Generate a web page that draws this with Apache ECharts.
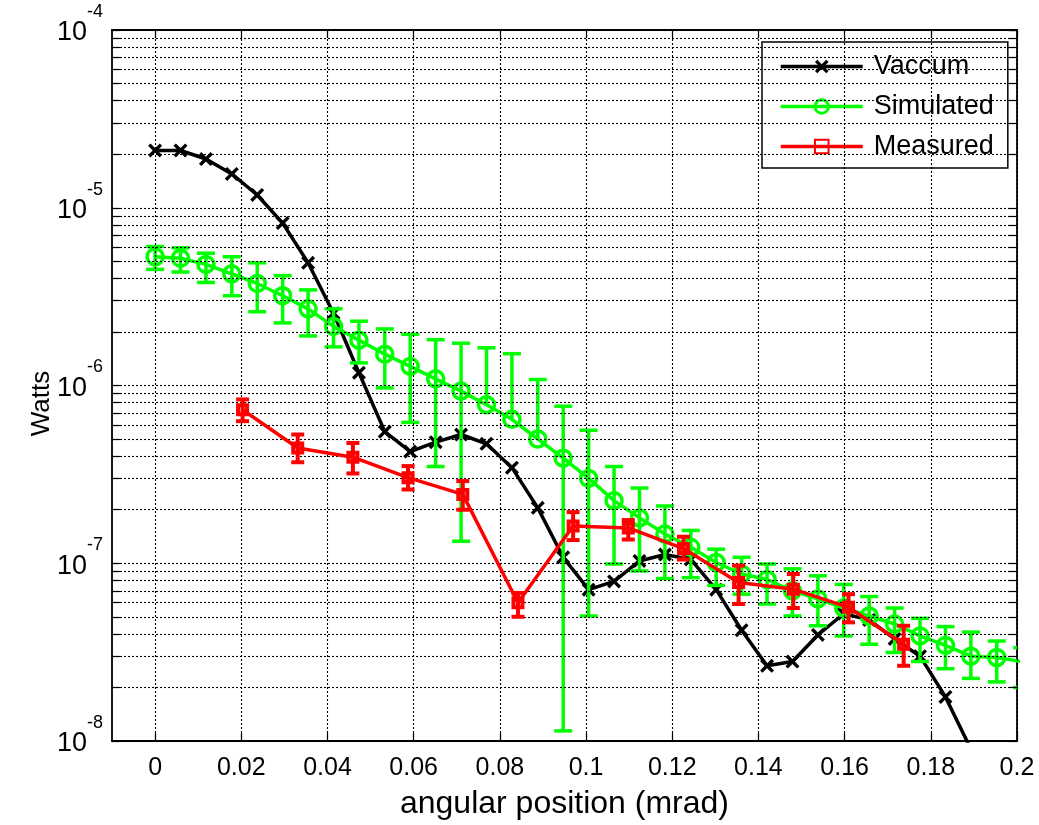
<!DOCTYPE html>
<html><head><meta charset="utf-8">
<script src="https://cdn.jsdelivr.net/npm/echarts@6/dist/echarts.min.js"></script>
<style>html,body{margin:0;padding:0;background:#fff}#c{width:1039px;height:825px}</style>
</head><body><div id="c"></div>
<script>
// ---------- data ----------
const xTicks = [0, 0.02, 0.04, 0.06, 0.08, 0.1, 0.12, 0.14, 0.16, 0.18, 0.2];
const xTickLabels = ['0', '0.02', '0.04', '0.06', '0.08', '0.1', '0.12', '0.14', '0.16', '0.18', '0.2'];
const yDecades = [1e-8, 1e-7, 1e-6, 1e-5, 1e-4];
const yMinorMantissas = [2, 3, 4, 5, 6, 7, 8, 9];

// angular positions of the Vaccum / Simulated samples (mrad)
const xSim = [0, 0.0059, 0.0118, 0.0178, 0.0237, 0.0296, 0.0355, 0.0414, 0.0473, 0.0533,
  0.0592, 0.0651, 0.071, 0.0769, 0.0828, 0.0888, 0.0947, 0.1006, 0.1065, 0.1124,
  0.1183, 0.1243, 0.1302, 0.1361, 0.142, 0.1479, 0.1538, 0.1598, 0.1657, 0.1716,
  0.1775, 0.1834, 0.1893, 0.1953, 0.2012];

const vaccum = [2.1e-5, 2.1e-5, 1.88e-5, 1.55e-5, 1.18e-5, 8.2e-6, 4.9e-6, 2.55e-6, 1.18e-6, 5.5e-7,
  4.25e-7, 4.8e-7, 5.3e-7, 4.7e-7, 3.45e-7, 2.05e-7, 1.08e-7, 7.1e-8, 7.9e-8, 1.03e-7,
  1.12e-7, 1.05e-7, 7.1e-8, 4.2e-8, 2.65e-8, 2.8e-8, 3.95e-8, 5.2e-8, 4.8e-8, 3.75e-8,
  3.0e-8, 1.77e-8, 9e-9];

const simulated = [5.3e-6, 5.2e-6, 4.8e-6, 4.25e-6, 3.75e-6, 3.2e-6, 2.7e-6, 2.15e-6, 1.8e-6, 1.5e-6,
  1.28e-6, 1.09e-6, 9.3e-7, 7.8e-7, 6.45e-7, 5.0e-7, 3.9e-7, 3.0e-7, 2.25e-7, 1.8e-7,
  1.46e-7, 1.23e-7, 1.01e-7, 8.7e-8, 8.1e-8, 7.0e-8, 6.3e-8, 5.6e-8, 5.05e-8, 4.55e-8,
  3.9e-8, 3.45e-8, 3.0e-8, 2.95e-8, 2.8e-8];
const simHigh = [6.05e-6, 5.95e-6, 5.55e-6, 5.3e-6, 4.9e-6, 4.15e-6, 3.45e-6, 2.7e-6, 2.3e-6, 2.08e-6,
  1.94e-6, 1.81e-6, 1.73e-6, 1.63e-6, 1.51e-6, 1.08e-6, 7.65e-7, 5.6e-7, 3.5e-7, 2.65e-7,
  2.1e-7, 1.53e-7, 1.2e-7, 1.08e-7, 9.9e-8, 9.3e-8, 8.5e-8, 7.6e-8, 6.5e-8, 5.6e-8,
  4.9e-8, 4.4e-8, 4.1e-8, 3.65e-8, 3.35e-8];
const simLow = [4.5e-6, 4.35e-6, 3.8e-6, 3.2e-6, 2.6e-6, 2.25e-6, 1.9e-6, 1.65e-6, 1.34e-6, 9.7e-7,
  6.2e-7, 3.5e-7, 1.33e-7, null, null, null, 1.14e-8, 5.05e-8, 9.9e-8, 9.05e-8,
  8.2e-8, 8.3e-8, 7.5e-8, 6.7e-8, 5.9e-8, 5.05e-8, 4.45e-8, 3.9e-8, 3.5e-8, 3.15e-8,
  2.8e-8, 2.55e-8, 2.25e-8, 2.15e-8, 2.0e-8];

const xMeas = [0.0203, 0.0331, 0.0459, 0.0587, 0.0714, 0.0842, 0.097, 0.1098, 0.1226, 0.1354,
  0.1481, 0.1609, 0.1737];
const measured = [7.3e-7, 4.45e-7, 3.95e-7, 3.03e-7, 2.44e-7, 6.0e-8, 1.62e-7, 1.58e-7, 1.21e-7, 7.8e-8,
  7.15e-8, 5.65e-8, 3.5e-8];
const measHigh = [8.35e-7, 5.3e-7, 4.75e-7, 3.52e-7, 2.9e-7, 6.8e-8, 1.94e-7, 1.75e-7, 1.41e-7, 9.7e-8,
  8.7e-8, 6.7e-8, 4.45e-8];
const measLow = [6.3e-7, 3.7e-7, 3.2e-7, 2.6e-7, 2.0e-7, 5.0e-8, 1.35e-7, 1.36e-7, 1.05e-7, 5.9e-8,
  5.6e-8, 4.65e-8, 2.65e-8];

// ---------- chart ----------
const FONT = '"Liberation Sans", Arial, Helvetica, sans-serif';
const X_MIN = -0.01, X_MAX = 0.2, Y_MIN = 1e-8, Y_MAX = 1e-4;
const GRID = { left: 112, right: 22, top: 30, bottom: 83 };
const plotW = 1039 - GRID.left - GRID.right;
const tickDx = 8 / plotW * (X_MAX - X_MIN);

const yMinor = [];
yDecades.slice(0, -1).forEach(d => yMinorMantissas.forEach(m => yMinor.push(m * d)));

const dotted = { color: '#000', width: 1.1, type: [2, 2] };
const gridLines = [];
xTicks.forEach(v => gridLines.push([{ coord: [v, Y_MIN], lineStyle: dotted }, { coord: [v, Y_MAX] }]));
yDecades.concat(yMinor).forEach(v => gridLines.push([{ coord: [X_MIN, v], lineStyle: dotted }, { coord: [X_MAX, v] }]));
const solidTick = { color: '#000', width: 1.2, type: 'solid' };
yMinor.forEach(v => {
  gridLines.push([{ coord: [X_MIN, v], lineStyle: solidTick }, { coord: [X_MIN + tickDx, v] }]);
  gridLines.push([{ coord: [X_MAX - tickDx, v], lineStyle: solidTick }, { coord: [X_MAX, v] }]);
});

function errData(xs, c, lo, hi) {
  return xs.map((x, i) => [x, c[i], lo[i] == null ? NaN : lo[i], hi[i]]);
}
function errRender(capHalf, color, width) {
  return function (params, api) {
    const x = api.value(0), c = api.value(1), lo = api.value(2), hi = api.value(3);
    const pc = api.coord([x, c]);
    const ph = api.coord([x, hi]);
    const pl = (isFinite(lo) && lo > 0) ? api.coord([x, lo]) : null;
    const st = { stroke: color, lineWidth: width, fill: null };
    const children = [
      { type: 'line', shape: { x1: ph[0], y1: ph[1], x2: ph[0], y2: pl ? pl[1] : pc[1] }, style: st },
      { type: 'line', shape: { x1: ph[0] - capHalf, y1: ph[1], x2: ph[0] + capHalf, y2: ph[1] }, style: st }
    ];
    if (pl) children.push({ type: 'line', shape: { x1: pl[0] - capHalf, y1: pl[1], x2: pl[0] + capHalf, y2: pl[1] }, style: st });
    return { type: 'group', children };
  };
}

const crossPath = 'path://M0,1.7L1.7,0L5,3.3L8.3,0L10,1.7L6.7,5L10,8.3L8.3,10L5,6.7L1.7,10L0,8.3L3.3,5Z';

const option = {
  animation: false,
  backgroundColor: '#fff',
  textStyle: { fontFamily: FONT },
  grid: GRID,
  legend: {
    data: [
      { name: 'Vaccum', itemStyle: { borderWidth: 0 }, lineStyle: { width: 3.5 } },
      { name: 'Simulated', itemStyle: { borderWidth: 3 }, lineStyle: { width: 3.5 } },
      { name: 'Measured', itemStyle: { borderWidth: 2 }, lineStyle: { width: 3.5 } }
    ],
    orient: 'vertical',
    left: 762, top: 42,
    padding: [11, 14, 8, 17],
    itemWidth: 82, itemHeight: 17, itemGap: 13,
    backgroundColor: '#fff', borderColor: '#000', borderWidth: 1.5,
    textStyle: { fontSize: 27, color: '#000', fontFamily: FONT, lineHeight: 27, padding: [0, 0, 0, 6] }
  },
  xAxis: [{
    type: 'value', min: X_MIN, max: X_MAX, position: 'bottom',
    name: 'angular position (mrad)', nameLocation: 'middle', nameGap: 47,
    nameTextStyle: { fontSize: 32, color: '#000', fontFamily: FONT },
    axisLine: { show: true, onZero: false, lineStyle: { color: '#000', width: 1.8 } },
    axisTick: { show: true, inside: true, length: 8, customValues: xTicks, lineStyle: { color: '#000', width: 1.2 } },
    axisLabel: { show: true, customValues: xTicks, margin: 15, fontSize: 25, color: '#000', fontFamily: FONT,
      formatter: v => { const i = xTicks.findIndex(t => Math.abs(t - v) < 1e-9); return i >= 0 ? xTickLabels[i] : ''; } },
    splitLine: { show: false }
  }, {
    type: 'value', min: X_MIN, max: X_MAX, position: 'top',
    axisLine: { show: true, onZero: false, lineStyle: { color: '#000', width: 1.8 } },
    axisTick: { show: true, inside: true, length: 8, customValues: xTicks, lineStyle: { color: '#000', width: 1.2 } },
    axisLabel: { show: false }, splitLine: { show: false }
  }],
  yAxis: [{
    type: 'log', logBase: 10, min: Y_MIN, max: Y_MAX, position: 'left',
    name: 'Watts', nameLocation: 'middle', nameGap: 57, nameRotate: 90, nameMoveOverlap: false,
    nameTextStyle: { fontSize: 26, color: '#000', fontFamily: FONT, padding: [0, 36, 0, 0] },
    axisLine: { show: true, onZero: false, lineStyle: { color: '#000', width: 1.8 } },
    axisTick: { show: true, inside: true, length: 8, lineStyle: { color: '#000', width: 1.2 } },
    axisLabel: {
      show: true, margin: 9, color: '#000', fontFamily: FONT,
      formatter: v => '{b|10}{s|' + Math.round(Math.log10(v)) + '}',
      rich: {
        b: { fontSize: 27, fontFamily: FONT, color: '#000', verticalAlign: 'middle', lineHeight: 30, padding: [6, 0, 0, 0] },
        s: { fontSize: 18, fontFamily: FONT, color: '#000', verticalAlign: 'middle', lineHeight: 18, padding: [0, 0, 36, 0] }
      }
    },
    splitLine: { show: false }, minorTick: { show: false }
  }, {
    type: 'log', logBase: 10, min: Y_MIN, max: Y_MAX, position: 'right',
    axisLine: { show: true, onZero: false, lineStyle: { color: '#000', width: 1.8 } },
    axisTick: { show: true, inside: true, length: 8, lineStyle: { color: '#000', width: 1.2 } },
    axisLabel: { show: false }, splitLine: { show: false }
  }],
  series: [
    {
      name: 'gridlines', type: 'line', data: [], z: 1, silent: true, symbol: 'none',
      markLine: { silent: true, symbol: 'none', label: { show: false }, animation: false, data: gridLines }
    },
    {
      name: 'Vaccum', type: 'line', z: 3,
      data: vaccum.map((v, i) => [xSim[i], v]),
      symbol: crossPath, symbolSize: 14, showAllSymbol: true,
      lineStyle: { color: '#000', width: 3.5 },
      itemStyle: { color: '#000' },
      color: '#000'
    },
    {
      name: 'simErr', type: 'custom', z: 4, clip: true, silent: true,
      data: errData(xSim, simulated, simLow, simHigh),
      encode: { x: 0, y: 1 },
      renderItem: errRender(9, '#00ff00', 3.5)
    },
    {
      name: 'Simulated', type: 'line', z: 4,
      data: simulated.map((v, i) => [xSim[i], v]),
      symbol: 'circle', symbolSize: 16, showAllSymbol: true,
      lineStyle: { color: '#00ff00', width: 3.5 },
      itemStyle: { color: 'rgba(0,0,0,0)', borderColor: '#00ff00', borderWidth: 3.5 }
    },
    {
      name: 'measErr', type: 'custom', z: 5, clip: true, silent: true,
      data: errData(xMeas, measured, measLow, measHigh),
      encode: { x: 0, y: 1 },
      renderItem: errRender(6.5, '#ff0000', 4)
    },
    {
      name: 'Measured', type: 'line', z: 5,
      data: measured.map((v, i) => [xMeas[i], v]),
      symbol: 'rect', symbolSize: 9, showAllSymbol: true,
      lineStyle: { color: '#ff0000', width: 3.5 },
      itemStyle: { color: 'rgba(0,0,0,0)', borderColor: '#ff0000', borderWidth: 4 }
    }
  ]
};

const chart = echarts.init(document.getElementById('c'), null, { renderer: 'canvas' });
chart.setOption(option);
</script>
</body></html>
